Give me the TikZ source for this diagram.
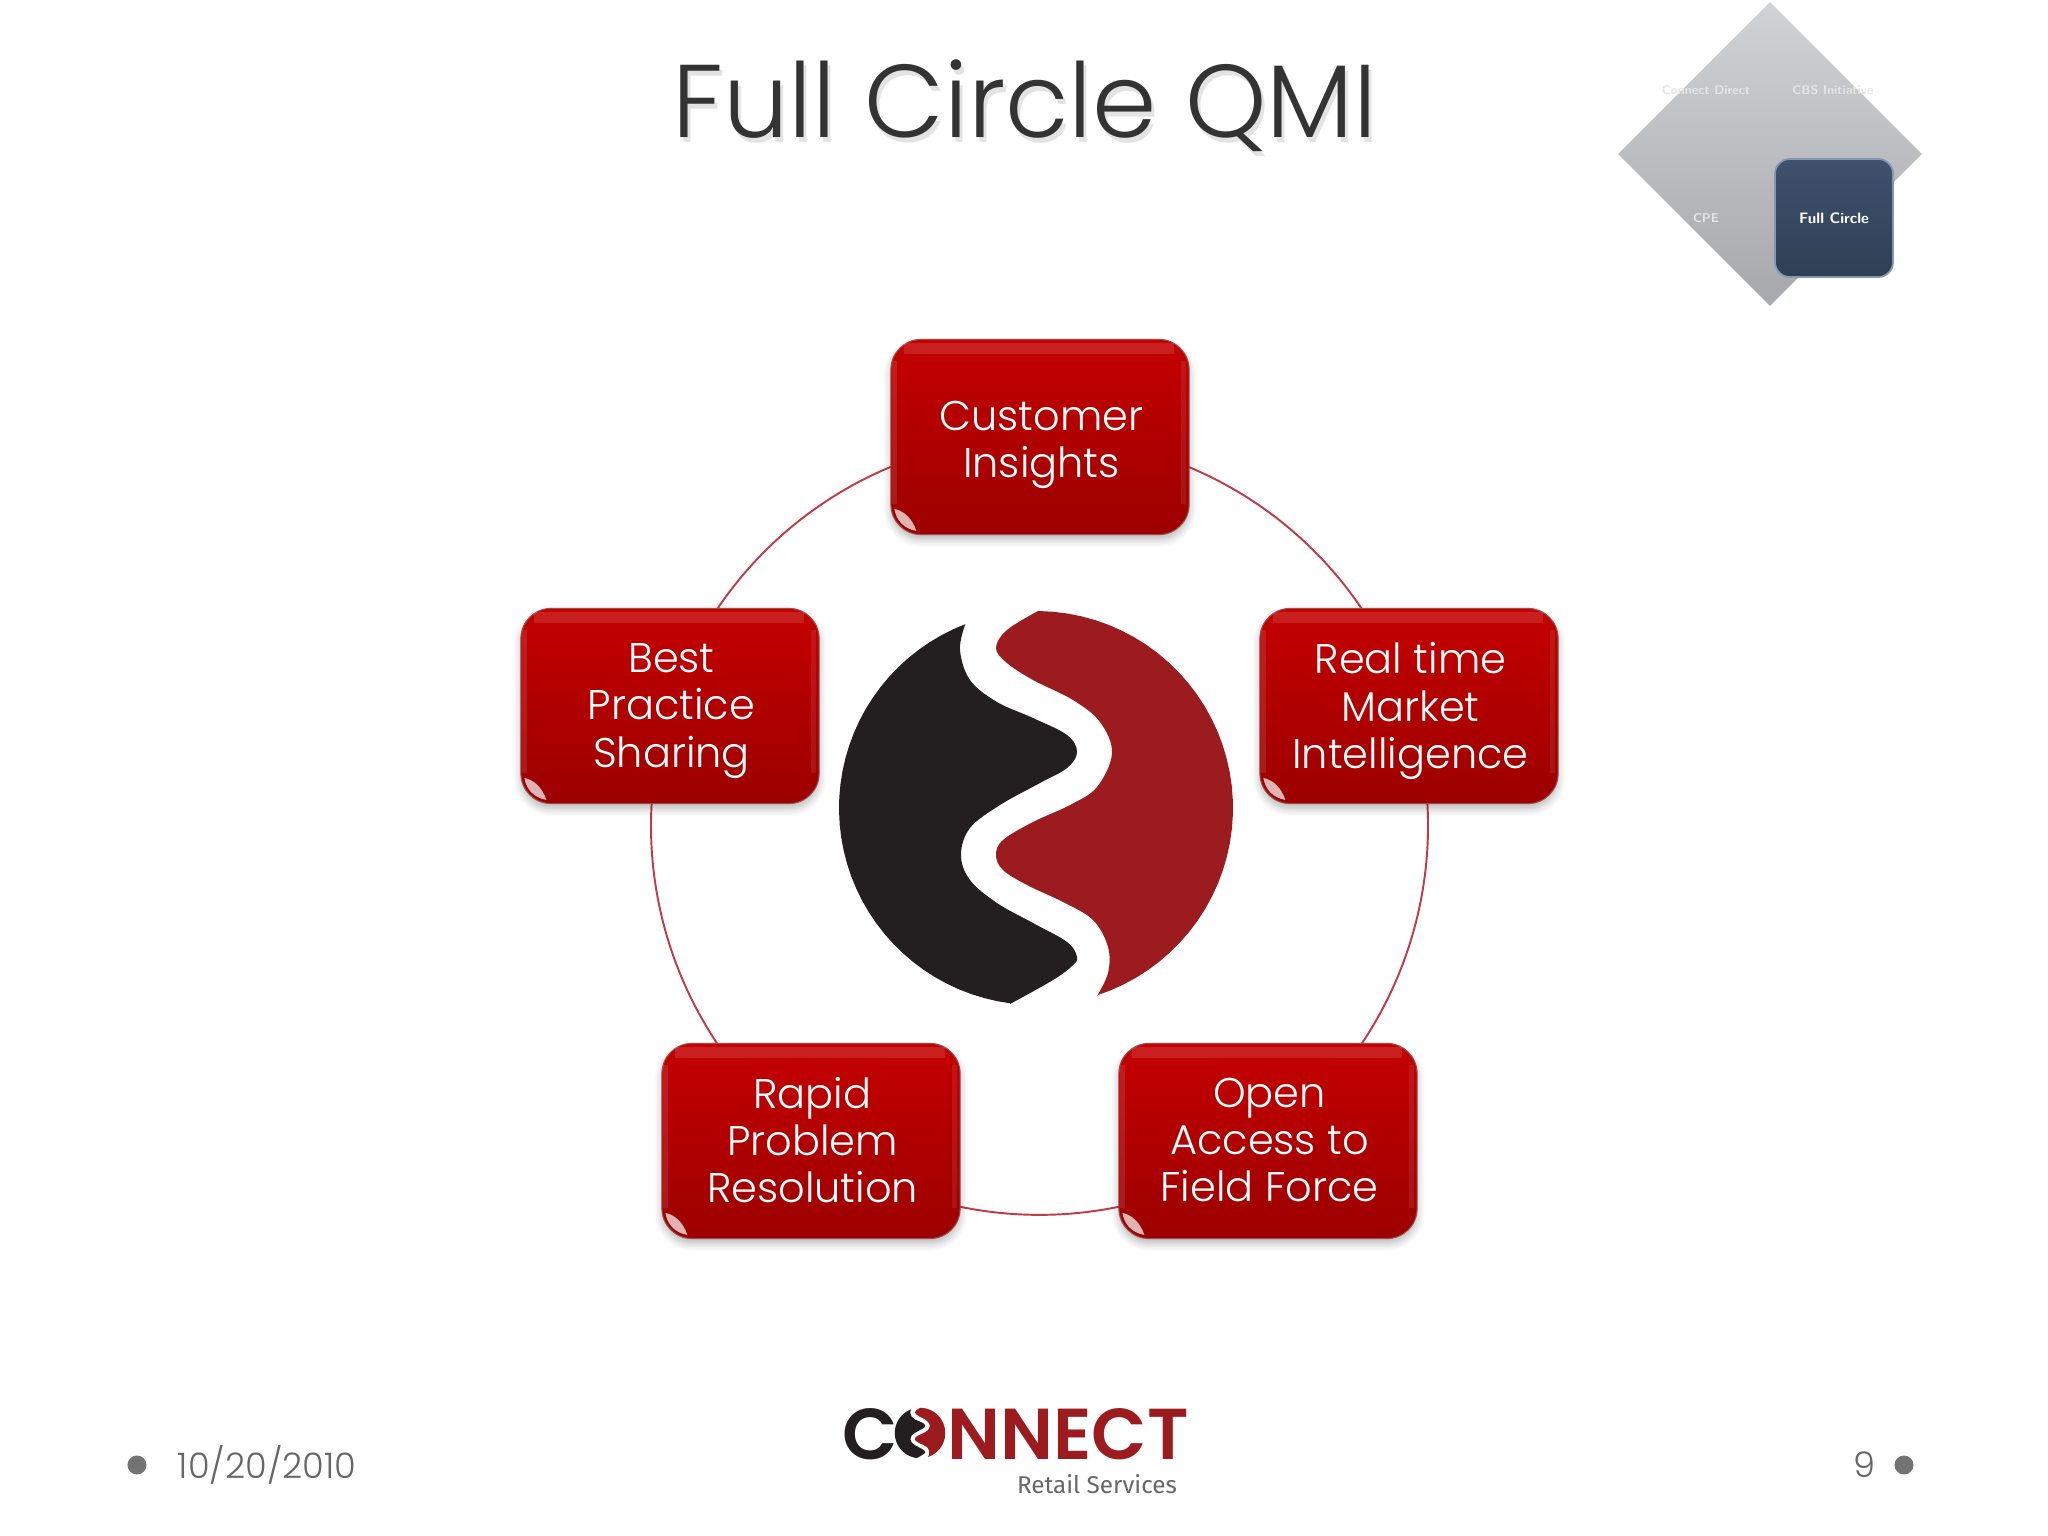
\documentclass[tikz,border=0pt]{standalone}
\usepackage{fontspec}
\setmainfont{Poppins Light}
\newfontfamily\logofont{Poppins SemiBold}
\newfontfamily\tagfont{Fira Sans}
\usetikzlibrary{shapes.geometric, backgrounds, shadows.blur}

\definecolor{markblack}{HTML}{231F20}
\definecolor{markred}{HTML}{9B1B1E}
\definecolor{ringred}{HTML}{C23A48}
\definecolor{titlegray}{HTML}{333333}
\definecolor{footgray}{HTML}{666666}
\definecolor{navtop}{HTML}{3F516D}
\definecolor{navbottom}{HTML}{2F3F55}
\definecolor{navedge}{HTML}{8597B0}
\definecolor{diamtop}{HTML}{D0D3D5}
\definecolor{diambottom}{HTML}{A6A8AC}
\definecolor{boxtop}{HTML}{C40000}
\definecolor{boxmid}{HTML}{BC0000}
\definecolor{boxbottom}{HTML}{9C0000}

\tikzset{
    qmibox/.style={rectangle, rounded corners=0.3cm, minimum width=2.98cm, minimum height=1.95cm,
        inner sep=0pt, draw=red!45!black!70!white, line width=0.3pt,
        top color=boxtop, middle color=boxmid, bottom color=boxbottom,
        blur shadow={shadow xshift=0cm, shadow yshift=-0.05cm, shadow blur steps=6, shadow opacity=28}},
    qmilabel/.style={align=center, text=white, inner sep=0pt, xshift=0.015cm, yshift=-0.08cm,
        font=\fontsize{11.8}{13.4}\selectfont},
    ringline/.style={ringred, line width=0.55pt, bend left=36, looseness=.94},
    footdot/.style={circle, fill=black!55, minimum size=0.19cm, inner sep=0pt},
    foottext/.style={text=footgray, font=\fontsize{10}{12}\selectfont},
    navtext/.style={text=black!10, font=\sffamily\bfseries\fontsize{3.6}{4}\selectfont},
    fullmark/.pic={
        \fill[markblack] plot[domain=249:97.5, samples=40] ({197*cos(\x)},{197*sin(\x)}) --
            plot[smooth, tension=.6] coordinates {(-26,196) (17,172) (36,158) (41,149) (31,134) (-3,115)
            (-39,95) (-66,72) (-75,47) (-66,20) (-36,-3) (4,-25) (31,-40) (41,-56) (31,-73) (-3,-90)
            (-39,-106) (-66,-128) (-76,-158) (-71,-183)} -- cycle;
        \fill[markred] plot[domain=271:432, samples=40] ({197*cos(\x)},{197*sin(\x)}) --
            plot[smooth, tension=.6] coordinates {(61,188) (72,165) (72,139) (57,112) (27,94) (-9,77)
            (-33,62) (-40,47) (-33,32) (-3,14) (34,-3) (61,-21) (76,-55) (64,-86) (37,-108) (-3,-128)
            (-29,-145) (-40,-160) (-29,-178) (2,-197)} -- cycle;
    }
}

\begin{document}
\begin{tikzpicture}[x=0.01cm, y=-0.01cm]
    \useasboundingbox (0,0) rectangle (2048,1536);

    % title
    \node[text=black!22, opacity=.5, font=\fontsize{29.4}{31}\selectfont] at (1028,111) (titleshade) {Full Circle QMI};
    \node[text=titlegray, font=\fontsize{29.4}{31}\selectfont] at (1025,106) (title) {Full Circle QMI};

    % navigation diamond
    \node[diamond, shape aspect=1, minimum width=3.04cm, minimum height=3.04cm, inner sep=0pt,
        top color=diamtop, bottom color=diambottom] at (1770,154) (nav) {};
    \node[navtext] at (1706,90) (direct) {Connect Direct};
    \node[navtext] at (1833,90) (cbs) {CBS Initiative};
    \node[navtext] at (1706,218) (cpe) {CPE};
    \node[rectangle, rounded corners=0.15cm, minimum size=1.18cm, inner sep=0pt, draw=navedge,
        line width=0.5pt, top color=navtop, bottom color=navbottom, text=white,
        font=\sffamily\bfseries\fontsize{4.3}{5}\selectfont] at (1834,218) (fullc) {Full Circle};

    % the five boxes
    \node[qmibox, label={[qmilabel]center:{Customer\\Insights}}] at (1040,437) (cust) {};
    \node[qmibox, label={[qmilabel, yshift=0.03cm]center:{Real time\\Market\\Intelligence}}] at (1409,706) (real) {};
    \node[qmibox, label={[qmilabel, yshift=0.09cm]center:{Open\\Access to\\Field Force}}] at (1268,1141) (open) {};
    \node[qmibox, label={[qmilabel, yshift=0.09cm]center:{Rapid\\Problem\\Resolution}}] at (811,1141) (rapid) {};
    \node[qmibox, label={[qmilabel, yshift=0.03cm]center:{Best\\Practice\\Sharing}}] at (670,706) (best) {};

    \foreach \n in {cust, real, open, rapid, best} {
        \begin{scope}[shift={(\n.north west)}]
            \clip[rounded corners=0.3cm] (0,0) rectangle (298,195);
            \fill[white, opacity=.12] (14,4) rectangle (284,15);
            \fill[white, opacity=.10] (2,22) rectangle (7,165);
            \fill[white, opacity=.08] (291,22) rectangle (296,165);
            \fill[white, opacity=.7] (4,170) .. controls (14,172) and (22,180) .. (26,192)
                .. controls (14,190) and (6,182) .. (4,170);
        \end{scope}
    }

    \begin{scope}[on background layer]
        \foreach \a/\b in {cust/real, real/open, open/rapid, rapid/best, best/cust}
            \draw[ringline] (\a.center) to (\b.center);
    \end{scope}

    \pic (mark) at (1036,808) {fullmark};

    % footer
    \foreach \x/\n in {137/dotl, 1904/dotr} \node[footdot] at (\x,1465) (\n) {};
    \node[foottext] at (267,1465) (date) {10/20/2010};
    \node[foottext] at (1864,1465) (page) {9};

    % connect logo
    \node[inner sep=0pt, text=markblack, font=\logofont\fontsize{20.5}{22}\selectfont] at (870,1434) (letterc) {C};
    \pic[scale=.128] (logomark) at (920,1433) {fullmark};
    \node[inner sep=0pt, text=markred, font=\logofont\fontsize{20.5}{22}\selectfont] at (1068,1434) (letters) {NNECT};
    \node[inner sep=0pt, text=footgray, font=\tagfont\fontsize{6.9}{8}\selectfont] at (1097,1484) (retail) {Retail Services};
\end{tikzpicture}
\end{document}
